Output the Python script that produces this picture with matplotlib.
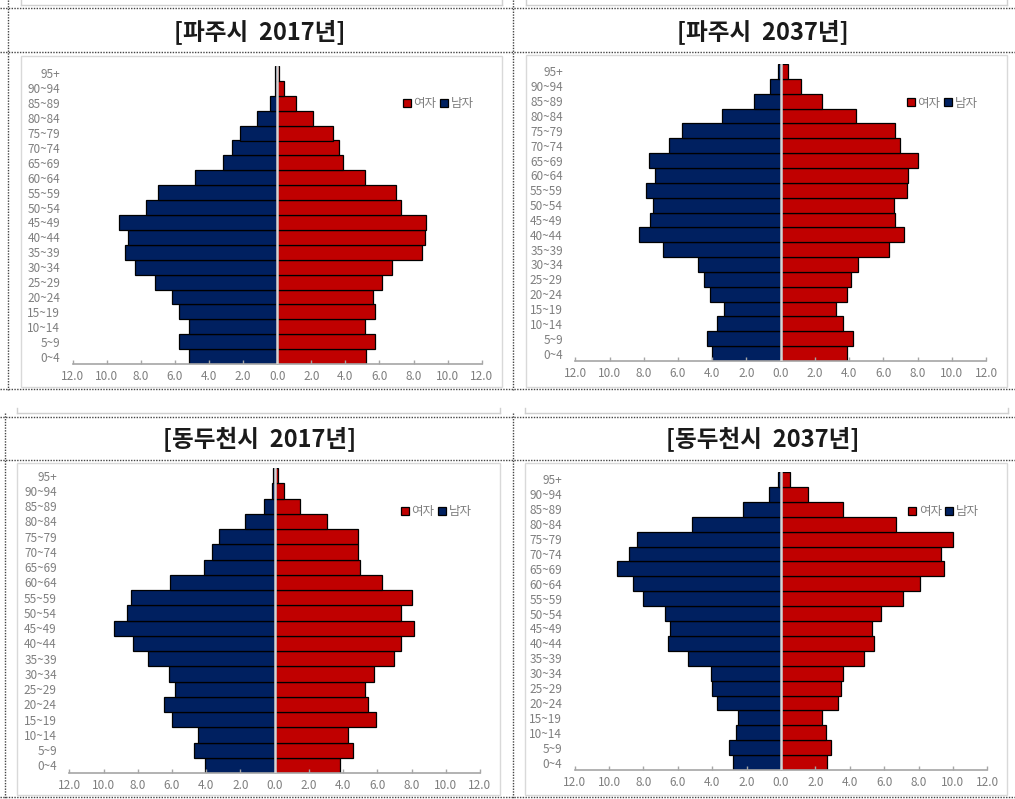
import matplotlib
matplotlib.use("Agg")
import matplotlib.pyplot as plt
from matplotlib.lines import Line2D
from matplotlib.patches import Rectangle

plt.rcParams['font.family'] = ['Noto Sans CJK KR', 'DejaVu Sans']

# ---- data (percent of population by age group) ----
ages = ['0~4', '5~9', '10~14', '15~19', '20~24', '25~29', '30~34', '35~39',
        '40~44', '45~49', '50~54', '55~59', '60~64', '65~69', '70~74',
        '75~79', '80~84', '85~89', '90~94', '95+']

titles = ['[파주시  2017년]', '[파주시  2037년]', '[동두천시  2017년]', '[동두천시  2037년]']

paju17_male = [5.15, 5.75, 5.2, 5.75, 6.2, 7.2, 8.35, 8.95, 8.75, 9.3,
               7.7, 7.0, 4.8, 3.2, 2.65, 2.2, 1.2, 0.45, 0.15, 0.1]
paju17_female = [5.2, 5.75, 5.15, 5.75, 5.6, 6.15, 6.75, 8.5, 8.7, 8.75,
                 7.25, 7.0, 5.15, 3.85, 3.6, 3.25, 2.1, 1.1, 0.4, 0.12]

paju37_male = [4.0, 4.3, 3.7, 3.3, 4.15, 4.5, 4.85, 6.9, 8.3, 7.65,
               7.45, 7.85, 7.35, 7.7, 6.5, 5.75, 3.45, 1.55, 0.62, 0.18]
paju37_female = [3.9, 4.25, 3.65, 3.25, 3.9, 4.1, 4.5, 6.35, 7.2, 6.7,
                 6.6, 7.4, 7.45, 8.0, 7.0, 6.7, 4.4, 2.4, 1.2, 0.45]

ddc17_male = [4.05, 4.7, 4.5, 6.0, 6.45, 5.85, 6.15, 7.4, 8.3, 9.4,
              8.6, 8.4, 6.1, 4.15, 3.65, 3.25, 1.75, 0.65, 0.18, 0.08]
ddc17_female = [3.8, 4.6, 4.3, 5.9, 5.45, 5.3, 5.8, 6.95, 7.4, 8.15,
                7.4, 8.05, 6.25, 5.0, 4.85, 4.85, 3.05, 1.5, 0.55, 0.17]

ddc37_male = [2.8, 3.0, 2.6, 2.5, 3.7, 4.0, 4.05, 5.4, 6.55, 6.45,
              6.75, 8.0, 8.6, 9.55, 8.85, 8.35, 5.2, 2.2, 0.72, 0.15]
ddc37_female = [2.7, 2.9, 2.6, 2.4, 3.3, 3.5, 3.6, 4.8, 5.4, 5.3,
                5.8, 7.1, 8.1, 9.5, 9.3, 10.0, 6.7, 3.6, 1.55, 0.5]

males = [paju17_male, paju37_male, ddc17_male, ddc37_male]
females = [paju17_female, paju37_female, ddc17_female, ddc37_female]
x_ticks = list(range(-12, 13, 2))

# ---- layout in pixels of the 1015x799 picture ----
W, H = 1015, 799
axes_px = [(72.7, 481.7, 66, 364), (575.3, 986.0, 64, 361),
           (69.3, 480.0, 468, 773), (574.7, 987.3, 472, 770)]
frames_px = [(21, 502, 56, 387), (526, 1007, 55, 387),
             (17, 500, 463, 795), (525, 1007, 463, 795)]
title_px = [(260, 32), (763, 32), (260, 440), (763, 440)]
legend_px = [(403, 104), (907, 103), (401, 512), (908, 512)]

MALE_C = '#002060'
FEMALE_C = '#C00000'
GRAY_TXT = '#7f7f7f'


def fx(px):
    return px / W


def fy(py):
    return 1 - py / H


def fig_line(fig, x0, y0, x1, y1, **kw):
    fig.add_artist(Line2D([fx(x0), fx(x1)], [fy(y0), fy(y1)],
                          transform=fig.transFigure, **kw))


fig = plt.figure(figsize=(W / 100, H / 100), dpi=100)

# table cell borders (dotted)
dot = dict(color='#444444', lw=1.0, linestyle=(0, (1, 1)))
for y in (8, 52, 389, 417, 460, 797):
    fig_line(fig, 0, y, W, y, **dot)
fig_line(fig, 8, 0, 8, 390, **dot)
fig_line(fig, 513, 0, 513, 390, **dot)
fig_line(fig, 5, 413, 5, 799, **dot)
fig_line(fig, 513, 413, 513, 799, **dot)

# remnants of frames from the row above
faint = dict(color='#d0d0d0', lw=1)
for x0, x1, y in [(21, 502, 5), (526, 1007, 5), (17, 500, 413), (525, 1008, 413)]:
    fig_line(fig, x0, y, x1, y, **faint)
    fig_line(fig, x0, y, x0, y - 5, **faint)
    fig_line(fig, x1, y, x1, y - 5, **faint)

for i in range(4):
    # chart frame
    l, r, t, b = frames_px[i]
    fig.add_artist(Rectangle((fx(l), fy(b)), fx(r) - fx(l), fy(t) - fy(b),
                             transform=fig.transFigure, fill=False,
                             edgecolor='#d9d9d9', lw=1))

    tx, ty = title_px[i]
    fig.text(fx(tx), fy(ty), titles[i], ha='center', va='center',
             fontsize=17, fontweight='bold', color='#1a1a1a')

    l, r, t, b = axes_px[i]
    ax = fig.add_axes([fx(l), fy(b), fx(r) - fx(l), fy(t) - fy(b)])
    ypos = range(len(ages))
    m_bars = ax.barh(ypos, [-v for v in males[i]], height=1.0, color=MALE_C,
                     edgecolor='black', lw=0.9)
    f_bars = ax.barh(ypos, females[i], height=1.0, color=FEMALE_C,
                     edgecolor='black', lw=0.9)
    ax.axvline(0, color='#d4d4d4', lw=1.8, zorder=4)

    ax.set_xlim(-12, 12)
    ax.set_ylim(-0.5, len(ages) - 0.5)
    ax.set_xticks(x_ticks)
    ax.set_xticklabels([f'{abs(v):.1f}' for v in x_ticks])
    ax.set_yticks(list(ypos))
    ax.set_yticklabels(ages)
    for s in ('top', 'right', 'left'):
        ax.spines[s].set_visible(False)
    ax.spines['bottom'].set_color('#a6a6a6')
    ax.spines['bottom'].set_linewidth(1.2)
    ax.tick_params(axis='x', direction='in', length=3, width=1, color='#a6a6a6',
                   labelsize=8.5, labelcolor=GRAY_TXT, pad=4)
    ax.tick_params(axis='y', length=0, labelsize=8.5, labelcolor=GRAY_TXT, pad=9)
    ax.set_facecolor('none')

    lx, ly = legend_px[i]
    leg = ax.legend([f_bars, m_bars], ['여자', '남자'], ncol=2, frameon=False,
                    loc='center left', bbox_to_anchor=(fx(lx), fy(ly)),
                    bbox_transform=fig.transFigure, fontsize=9,
                    handlelength=0.6, handleheight=0.6, handletextpad=0.25,
                    columnspacing=0.3, borderpad=0, borderaxespad=0)
    for txt in leg.get_texts():
        txt.set_color(GRAY_TXT)

fig.savefig('out.png', dpi=100)
